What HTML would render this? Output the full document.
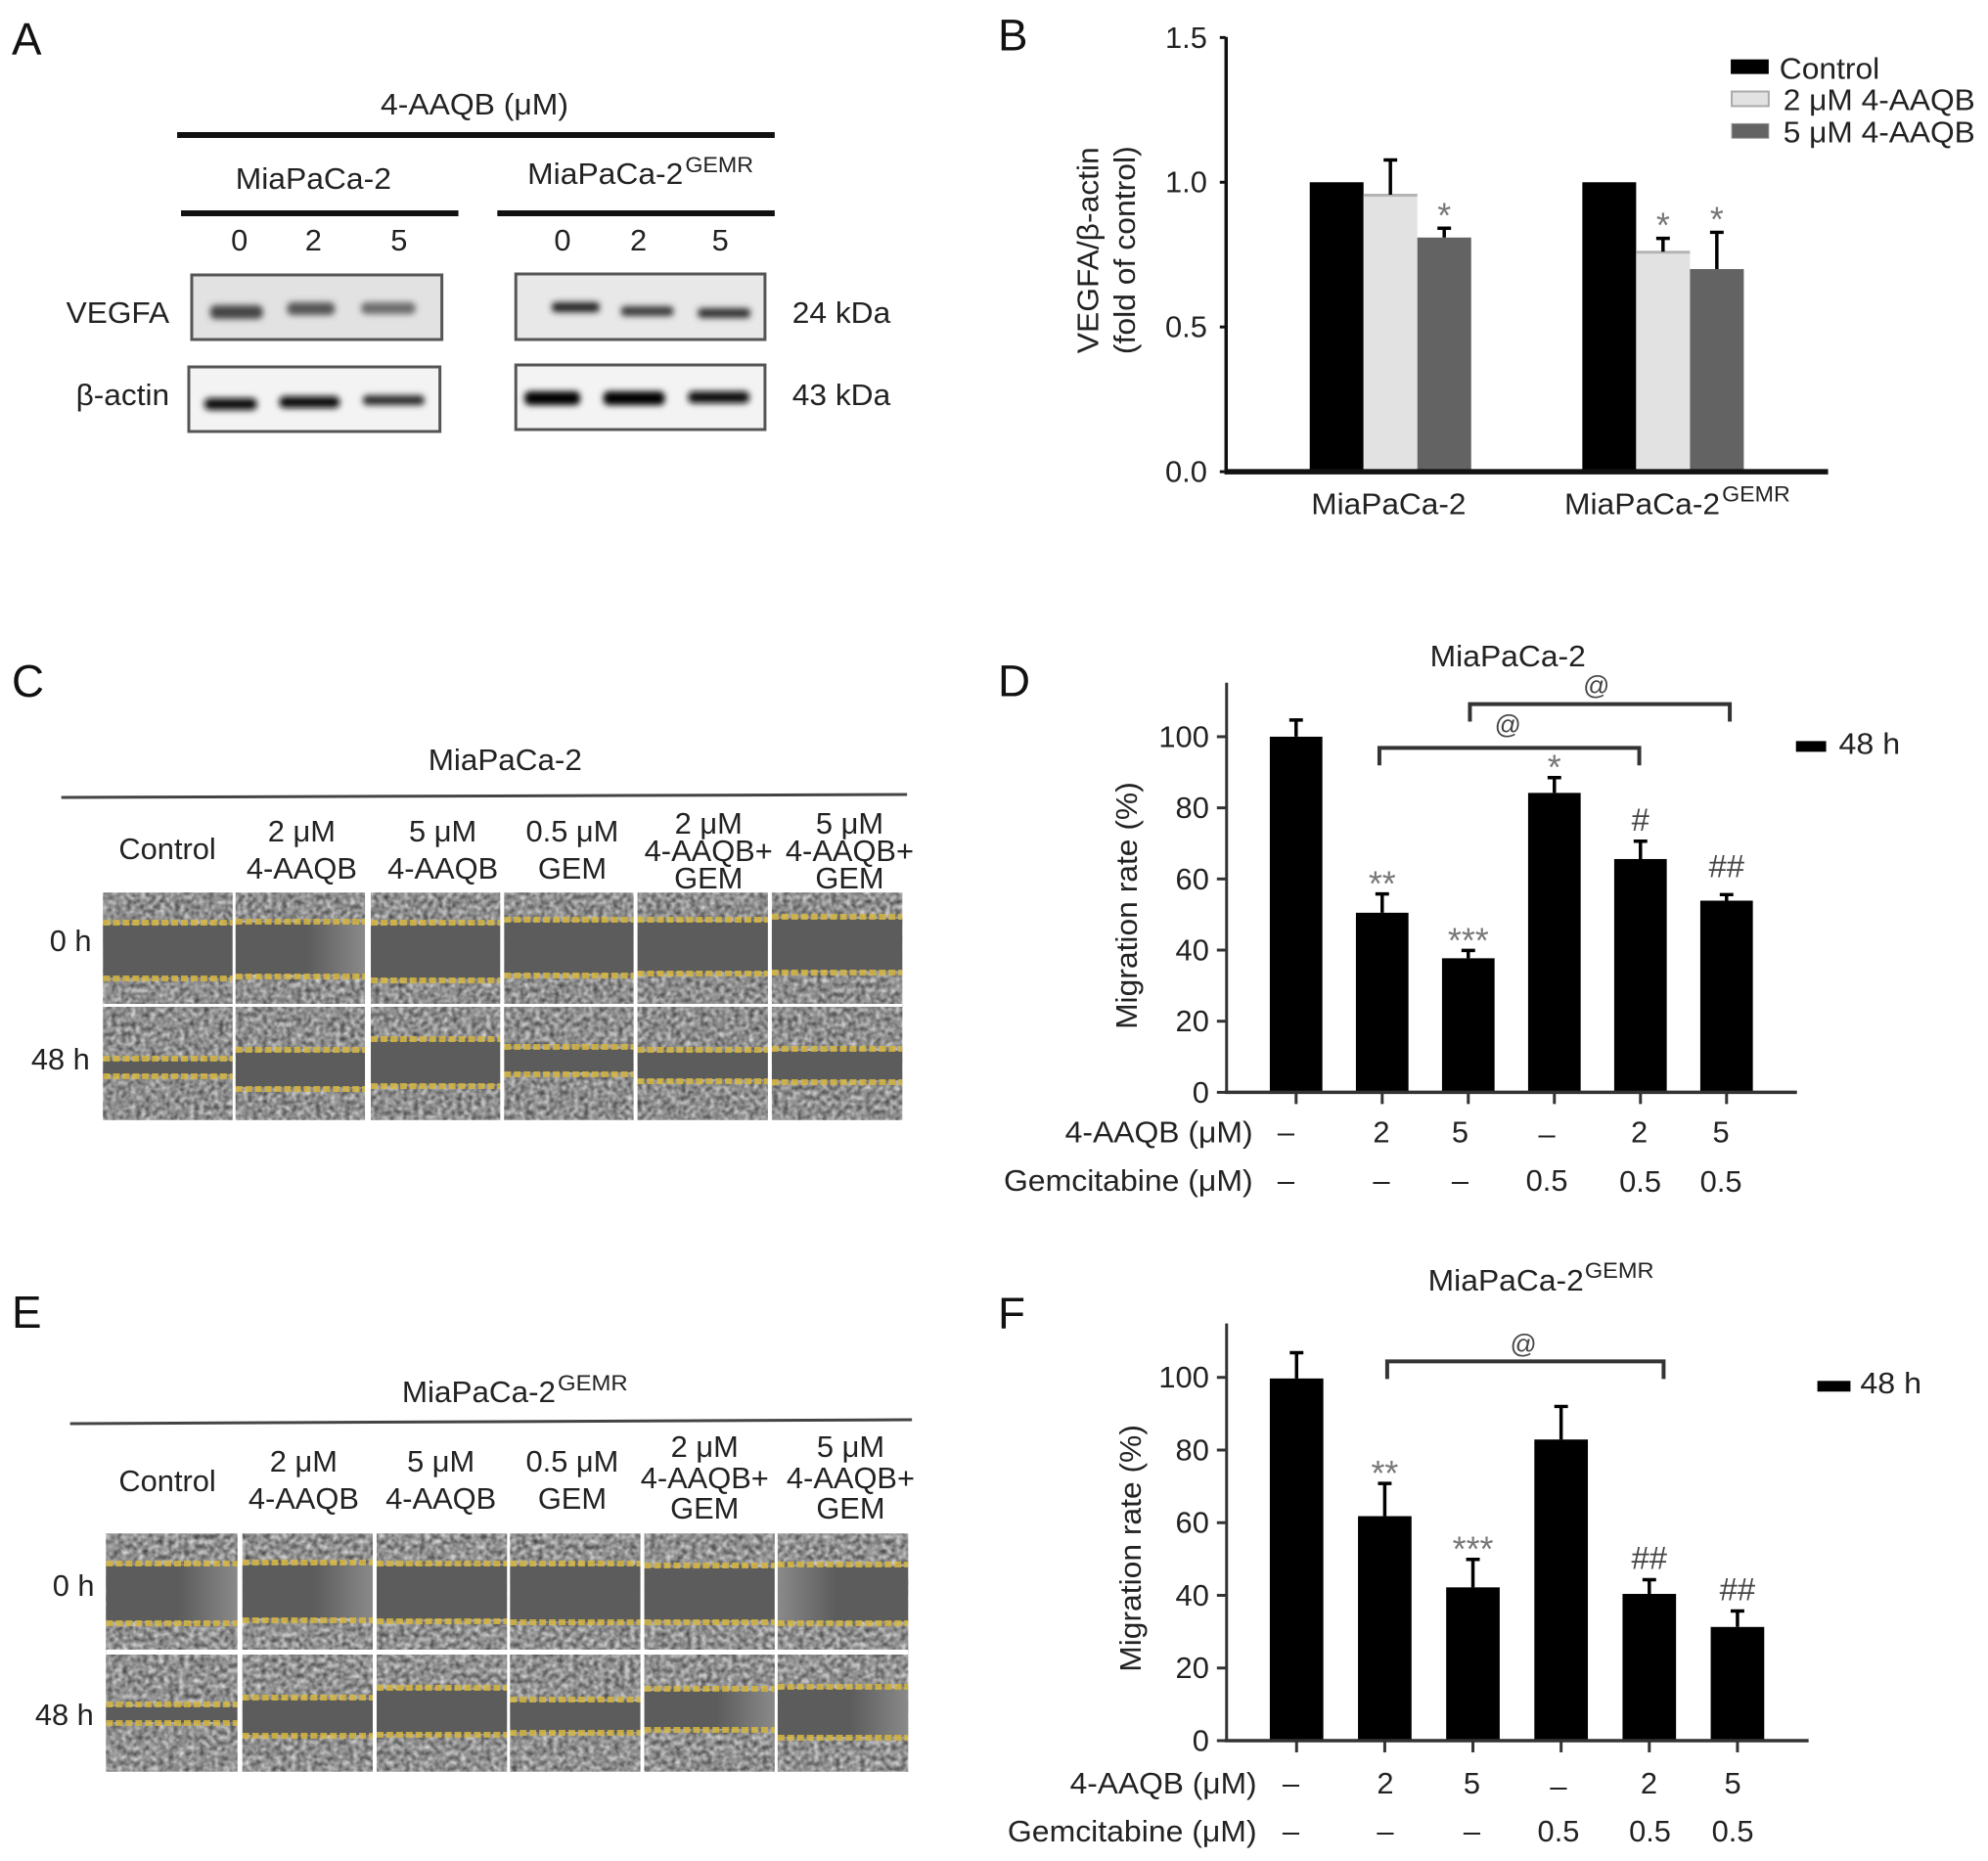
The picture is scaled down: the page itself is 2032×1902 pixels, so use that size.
<!DOCTYPE html>
<html lang="en">
<head>
<meta charset="utf-8">
<title>4-AAQB VEGFA and migration figure</title>
<style>
html,body{margin:0;padding:0;background:#fff}
svg{display:block}
text{font-family:"Liberation Sans",sans-serif;font-size:31px;fill:#222}
.letter{font-size:46px;fill:#111}
.sup{font-size:22px}
.mid{text-anchor:middle}
.dash{fill:none;stroke:#d6b640;stroke-width:6;stroke-dasharray:7 3;opacity:.85}
.dark{fill:#5c5c5c}
.blot{fill:#eeeeee;stroke:#555;stroke-width:3}
.gap{fill:#fff}
</style>
</head>
<body>
<svg id="figure" xmlns="http://www.w3.org/2000/svg" width="2032" height="1902" viewBox="0 0 2032 1902">
<defs>
<filter id="noise-c" filterUnits="userSpaceOnUse" x="106" y="912" width="821" height="233" color-interpolation-filters="sRGB">
<feTurbulence type="fractalNoise" baseFrequency="0.2" numOctaves="3" seed="4"/>
<feColorMatrix values="0.85 0 0 0 0.13 0.85 0 0 0 0.13 0.85 0 0 0 0.13 0 0 0 0 1"/>
<feGaussianBlur stdDeviation="0.8"/>
</filter>
<filter id="noise-e" filterUnits="userSpaceOnUse" x="109" y="1567" width="824" height="244" color-interpolation-filters="sRGB">
<feTurbulence type="fractalNoise" baseFrequency="0.19" numOctaves="3" seed="11"/>
<feColorMatrix values="0.85 0 0 0 0.14 0.85 0 0 0 0.14 0.85 0 0 0 0.14 0 0 0 0 1"/>
<feGaussianBlur stdDeviation="0.8"/>
</filter>
<filter id="blur-band" x="-30%" y="-100%" width="160%" height="300%"><feGaussianBlur stdDeviation="3.2"/></filter>
<linearGradient id="glow-right" x1="0" x2="1" y1="0" y2="0"><stop offset="0.55" stop-color="#fff" stop-opacity="0"/><stop offset="1" stop-color="#fff" stop-opacity=".28"/></linearGradient>
<linearGradient id="glow-left" x1="0" x2="1" y1="0" y2="0"><stop offset="0" stop-color="#fff" stop-opacity=".28"/><stop offset="0.45" stop-color="#fff" stop-opacity="0"/></linearGradient>
</defs>

<!-- Panel A -->
<g transform="matrix(0.9948 0 0 1 0 0)">
<text class="letter" x="12" y="56">A</text>
<text x="391" y="117" textLength="193" lengthAdjust="spacingAndGlyphs">4-AAQB (μM)</text>
<rect x="182" y="135" width="614" height="6" fill="#111"/>
<text x="242" y="193" textLength="160" lengthAdjust="spacingAndGlyphs">MiaPaCa-2</text>
<text x="542" y="188" textLength="160" lengthAdjust="spacingAndGlyphs">MiaPaCa-2</text>
<text class="sup" x="704" y="176" textLength="70" lengthAdjust="spacingAndGlyphs">GEMR</text>
<rect x="186" y="215" width="285" height="6" fill="#111"/>
<rect x="511" y="215" width="285" height="6" fill="#111"/>
<text class="mid" x="246" y="256">0</text>
<text class="mid" x="322" y="256">2</text>
<text class="mid" x="410" y="256">5</text>
<text class="mid" x="578" y="256">0</text>
<text class="mid" x="656" y="256">2</text>
<text class="mid" x="740" y="256">5</text>
<text x="68" y="330" textLength="106" lengthAdjust="spacingAndGlyphs">VEGFA</text>
<text x="78" y="414" textLength="96" lengthAdjust="spacingAndGlyphs">β-actin</text>
<text x="814" y="330" textLength="101" lengthAdjust="spacingAndGlyphs">24 kDa</text>
<text x="814" y="414" textLength="101" lengthAdjust="spacingAndGlyphs">43 kDa</text>

<g>
<rect class="blot" style="fill:#e2e2e2" x="197" y="281" width="257" height="66"/>
<g filter="url(#blur-band)" fill="#444"><rect x="216" y="312" width="54" height="14" rx="5"/><rect x="295" y="309" width="49" height="13" rx="5" fill="#555"/><rect x="371" y="309" width="56" height="12" rx="5" fill="#6c6c6c"/></g>
</g>
<g>
<rect class="blot" style="fill:#e8e8e8" x="530" y="280" width="256" height="67"/>
<g filter="url(#blur-band)" fill="#222"><rect x="567" y="309" width="49" height="10" rx="4"/><rect x="638" y="313" width="54" height="10" rx="4" fill="#3a3a3a"/><rect x="717" y="315" width="54" height="10" rx="4" fill="#333"/></g>
</g>
<g>
<rect class="blot" style="fill:#f3f3f3" x="194" y="375" width="258" height="66"/>
<g filter="url(#blur-band)" fill="#111"><rect x="210" y="407" width="54" height="12" rx="5"/><rect x="287" y="405" width="62" height="12" rx="5"/><rect x="373" y="404" width="63" height="10" rx="4" fill="#2c2c2c"/></g>
</g>
<g>
<rect class="blot" style="fill:#f3f3f3" x="530" y="373" width="256" height="66"/>
<g filter="url(#blur-band)" fill="#000"><rect x="539" y="400" width="57" height="14" rx="5"/><rect x="620" y="400" width="63" height="14" rx="5"/><rect x="707" y="400" width="63" height="12" rx="5" fill="#111"/></g>
</g>
</g>

<!-- Panel B static text -->
<g transform="matrix(0.9948 0 0 0.995 5.283 0)">
<text class="letter" x="1020" y="52">B</text>
<text x="1123" y="363" transform="rotate(-90 1123 363)" textLength="212" lengthAdjust="spacingAndGlyphs">VEGFA/β-actin</text>
<text x="1161" y="364" transform="rotate(-90 1161 364)" textLength="214" lengthAdjust="spacingAndGlyphs">(fold of control)</text>
<text x="1342" y="528" textLength="159" lengthAdjust="spacingAndGlyphs">MiaPaCa-2</text>
<text x="1602" y="528" textLength="160" lengthAdjust="spacingAndGlyphs">MiaPaCa-2</text>
<text class="sup" x="1764" y="515" textLength="70" lengthAdjust="spacingAndGlyphs">GEMR</text>
<rect x="1773" y="61" width="39" height="15" fill="#000"/>
<rect x="1774" y="94" width="38" height="15" fill="#e2e2e2" stroke="#aaa" stroke-width="2"/>
<rect x="1774" y="127" width="38" height="15" fill="#636363" stroke="#999" stroke-width="1"/>
<text x="1823" y="81" textLength="103" lengthAdjust="spacingAndGlyphs">Control</text>
<text x="1827" y="113" textLength="197" lengthAdjust="spacingAndGlyphs">2 μM 4-AAQB</text>
<text x="1827" y="146" textLength="197" lengthAdjust="spacingAndGlyphs">5 μM 4-AAQB</text>
</g>

<!-- Panel C -->
<g transform="matrix(0.9948 0 0 1 0 0)">
<text class="letter" x="12" y="712">C</text>
<text x="440" y="787" textLength="158" lengthAdjust="spacingAndGlyphs">MiaPaCa-2</text>
<path d="M63 815 L932 812" stroke="#444" stroke-width="3" fill="none"/>
<text class="mid" x="172" y="878">Control</text>
<g>
<text class="mid" x="310" y="860">2 μM</text>
<text class="mid" x="310" y="898">4-AAQB</text>
<text class="mid" x="455" y="860">5 μM</text>
<text class="mid" x="455" y="898">4-AAQB</text>
<text class="mid" x="588" y="860">0.5 μM</text>
<text class="mid" x="588" y="898">GEM</text>
<text class="mid" x="728" y="852">2 μM</text>
<text class="mid" x="728" y="880">4-AAQB+</text>
<text class="mid" x="728" y="908">GEM</text>
<text class="mid" x="873" y="852">5 μM</text>
<text class="mid" x="873" y="880">4-AAQB+</text>
<text class="mid" x="873" y="908">GEM</text>
</g>
<text x="51" y="972">0 h</text>
<text x="32" y="1093">48 h</text>
<rect x="106" y="912" width="821" height="233" fill="#888" filter="url(#noise-c)"/>
<g><rect class="dark" x="106" y="945" width="133" height="54"/><path class="dash" d="M106 943H239M106 1000H239"/></g>
<g><rect class="dark" x="242" y="943" width="133" height="53"/><rect fill="url(#glow-right)" x="242" y="943" width="133" height="53"/><path class="dash" d="M242 942H375M242 998H375"/></g>
<g><rect class="dark" x="381" y="945" width="133" height="55"/><path class="dash" d="M381 943H514M381 1002H514"/></g>
<g><rect class="dark" x="518" y="942" width="133" height="53"/><path class="dash" d="M518 940H651M518 997H651"/></g>
<g><rect class="dark" x="655" y="942" width="134" height="51"/><path class="dash" d="M655 940H789M655 995H789"/></g>
<g><rect class="dark" x="793" y="939" width="134" height="53"/><path class="dash" d="M793 937H927M793 994H927"/></g>
<g><rect class="dark" x="106" y="1084" width="133" height="14"/><path class="dash" d="M106 1082H239M106 1100H239"/></g>
<g><rect class="dark" x="242" y="1075" width="133" height="36"/><path class="dash" d="M242 1073H375M242 1113H375"/></g>
<g><rect class="dark" x="381" y="1064" width="133" height="44"/><path class="dash" d="M381 1062H514M381 1110H514"/></g>
<g><rect class="dark" x="518" y="1072" width="133" height="24"/><path class="dash" d="M518 1070H651M518 1098H651"/></g>
<g><rect class="dark" x="655" y="1075" width="134" height="28"/><path class="dash" d="M655 1073H789M655 1105H789"/></g>
<g><rect class="dark" x="793" y="1074" width="134" height="30"/><path class="dash" d="M793 1072H927M793 1106H927"/></g>
<g>
<rect class="gap" x="239" y="912" width="3" height="233"/><rect class="gap" x="375" y="912" width="6" height="233"/><rect class="gap" x="514" y="912" width="4" height="233"/><rect class="gap" x="651" y="912" width="4" height="233"/><rect class="gap" x="789" y="912" width="4" height="233"/><rect class="gap" x="106" y="1026" width="821" height="3"/>
</g>
</g>

<!-- Panel D static text -->
<g transform="matrix(0.9948 0 0 0.995 5.283 3.2)">
<text class="letter" x="1020" y="712">D</text>
<text x="1464" y="681" textLength="160" lengthAdjust="spacingAndGlyphs">MiaPaCa-2</text>
<text x="1163" y="1054" transform="rotate(-90 1163 1054)" textLength="254" lengthAdjust="spacingAndGlyphs">Migration rate (%)</text>
<path d="M1412 783V765H1679V783" fill="none" stroke="#333" stroke-width="4"/>
<path d="M1505 738V720H1772V738" fill="none" stroke="#333" stroke-width="4"/>
<text class="mid" style="font-size:27px;fill:#444" x="1635" y="710">@</text>
<text class="mid" style="font-size:27px;fill:#444" x="1544" y="750">@</text>
<rect x="1840" y="758" width="31" height="11" fill="#000"/>
<text x="1884" y="771" textLength="63" lengthAdjust="spacingAndGlyphs">48 h</text>
<text x="1089" y="1170" textLength="193" lengthAdjust="spacingAndGlyphs">4-AAQB (μM)</text>
<text x="1026" y="1220" textLength="256" lengthAdjust="spacingAndGlyphs">Gemcitabine (μM)</text>
<text class="mid" x="1316" y="1170">–</text>
<text class="mid" x="1414" y="1170">2</text>
<text class="mid" x="1495" y="1170">5</text>
<text class="mid" x="1584" y="1172">–</text>
<text class="mid" x="1679" y="1170">2</text>
<text class="mid" x="1763" y="1170">5</text>
<text class="mid" x="1316" y="1220">–</text>
<text class="mid" x="1414" y="1220">–</text>
<text class="mid" x="1495" y="1220">–</text>
<text class="mid" x="1584" y="1220">0.5</text>
<text class="mid" x="1680" y="1221">0.5</text>
<text class="mid" x="1763" y="1221">0.5</text>
</g>

<!-- Panel E -->
<g transform="matrix(0.9948 0 0 1 0 0)">
<text class="letter" x="12" y="1357">E</text>
<text x="413" y="1433" textLength="158" lengthAdjust="spacingAndGlyphs">MiaPaCa-2</text>
<text class="sup" x="573" y="1421" textLength="72" lengthAdjust="spacingAndGlyphs">GEMR</text>
<path d="M72 1455 L937 1451" stroke="#444" stroke-width="3" fill="none"/>
<text class="mid" x="172" y="1524">Control</text>
<g>
<text class="mid" x="312" y="1504">2 μM</text>
<text class="mid" x="312" y="1542">4-AAQB</text>
<text class="mid" x="453" y="1504">5 μM</text>
<text class="mid" x="453" y="1542">4-AAQB</text>
<text class="mid" x="588" y="1504">0.5 μM</text>
<text class="mid" x="588" y="1542">GEM</text>
<text class="mid" x="724" y="1489">2 μM</text>
<text class="mid" x="724" y="1521">4-AAQB+</text>
<text class="mid" x="724" y="1552">GEM</text>
<text class="mid" x="874" y="1489">5 μM</text>
<text class="mid" x="874" y="1521">4-AAQB+</text>
<text class="mid" x="874" y="1552">GEM</text>
</g>
<text x="54" y="1631">0 h</text>
<text x="36" y="1763">48 h</text>
<rect x="109" y="1567" width="824" height="244" fill="#888" filter="url(#noise-e)"/>
<g><rect class="dark" x="109" y="1600" width="135" height="57"/><rect fill="url(#glow-right)" x="109" y="1600" width="135" height="57"/><path class="dash" d="M109 1598H244M109 1659H244"/></g>
<g><rect class="dark" x="249" y="1599" width="134" height="55"/><rect fill="url(#glow-right)" x="249" y="1599" width="134" height="55"/><path class="dash" d="M249 1597H383M249 1656H383"/></g>
<g><rect class="dark" x="387" y="1600" width="134" height="55"/><path class="dash" d="M387 1598H521M387 1657H521"/></g>
<g><rect class="dark" x="524" y="1600" width="134" height="57"/><path class="dash" d="M524 1598H658M524 1658H658"/></g>
<g><rect class="dark" x="662" y="1602" width="134" height="54"/><path class="dash" d="M662 1600H796M662 1658H796"/></g>
<g><rect class="dark" x="799" y="1601" width="134" height="56"/><rect fill="url(#glow-left)" x="799" y="1601" width="134" height="56"/><path class="dash" d="M799 1599H933M799 1659H933"/></g>
<g><rect class="dark" x="109" y="1744" width="135" height="16"/><path class="dash" d="M109 1742H244M109 1761H244"/></g>
<g><rect class="dark" x="249" y="1737" width="134" height="36"/><path class="dash" d="M249 1735H383M249 1774H383"/></g>
<g><rect class="dark" x="387" y="1727" width="134" height="45"/><path class="dash" d="M387 1725H521M387 1773H521"/></g>
<g><rect class="dark" x="524" y="1739" width="134" height="31"/><path class="dash" d="M524 1737H658M524 1771H658"/></g>
<g><rect class="dark" x="662" y="1728" width="134" height="39"/><rect fill="url(#glow-right)" x="662" y="1728" width="134" height="39"/><path class="dash" d="M662 1726H796M662 1768H796"/></g>
<g><rect class="dark" x="799" y="1726" width="134" height="49"/><rect fill="url(#glow-right)" x="799" y="1726" width="134" height="49"/><path class="dash" d="M799 1724H933M799 1776H933"/></g>
<g>
<rect class="gap" x="244" y="1567" width="5" height="244"/><rect class="gap" x="383" y="1567" width="4" height="244"/><rect class="gap" x="521" y="1567" width="3" height="244"/><rect class="gap" x="658" y="1567" width="4" height="244"/><rect class="gap" x="796" y="1567" width="3" height="244"/><rect class="gap" x="109" y="1686" width="824" height="5"/>
</g>
</g>

<!-- Panel F static text -->
<g transform="matrix(0.9948 0 0 0.9948 5.283 6.66)">
<text class="letter" x="1020" y="1358">F</text>
<text x="1462" y="1319" textLength="160" lengthAdjust="spacingAndGlyphs">MiaPaCa-2</text>
<text class="sup" x="1623" y="1306" textLength="71" lengthAdjust="spacingAndGlyphs">GEMR</text>
<text x="1167" y="1711" transform="rotate(-90 1167 1711)" textLength="254" lengthAdjust="spacingAndGlyphs">Migration rate (%)</text>
<path d="M1420 1410V1392H1704V1410" fill="none" stroke="#333" stroke-width="4"/>
<text class="mid" style="font-size:27px;fill:#444" x="1560" y="1383">@</text>
<rect x="1862" y="1412" width="34" height="11" fill="#000"/>
<text x="1906" y="1425" textLength="63" lengthAdjust="spacingAndGlyphs">48 h</text>
<text x="1094" y="1836" textLength="192" lengthAdjust="spacingAndGlyphs">4-AAQB (μM)</text>
<text x="1030" y="1885" textLength="256" lengthAdjust="spacingAndGlyphs">Gemcitabine (μM)</text>
<text class="mid" x="1321" y="1836">–</text>
<text class="mid" x="1418" y="1836">2</text>
<text class="mid" x="1507" y="1836">5</text>
<text class="mid" x="1596" y="1839">–</text>
<text class="mid" x="1689" y="1836">2</text>
<text class="mid" x="1775" y="1836">5</text>
<text class="mid" x="1321" y="1885">–</text>
<text class="mid" x="1418" y="1885">–</text>
<text class="mid" x="1507" y="1885">–</text>
<text class="mid" x="1596" y="1885">0.5</text>
<text class="mid" x="1690" y="1885">0.5</text>
<text class="mid" x="1775" y="1885">0.5</text>
</g>

<g id="chart-b" transform="matrix(0.9948 0 0 0.995 5.283 0)"></g>
<g id="chart-d" transform="matrix(0.9948 0 0 0.995 5.283 3.2)"></g>
<g id="chart-f" transform="matrix(0.9948 0 0 0.9948 5.283 6.66)"></g>
</svg>

<script>
// Panel B values
const vegfaTicks = ['0.0', '0.5', '1.0', '1.5'];
const vegfaTickValues = [0, 0.5, 1, 1.5];
const vegfaControl = [1, 1];
const vegfa2uM = [0.957, 0.76];
const vegfa5uM = [0.809, 0.70];
const vegfaErrControl = [0, 0];
const vegfaErr2uM = [0.12, 0.046];
const vegfaErr5uM = [0.032, 0.127];
const vegfaMarks2uM = ['', '*'];
const vegfaMarks5uM = ['*', '*'];

// Panel D values
const migrationTicks = ['0', '20', '40', '60', '80', '100'];
const migrationTickValues = [0, 20, 40, 60, 80, 100];
const migrationParental = [100, 50.5, 37.7, 84.2, 65.6, 53.9];
const migrationParentalErr = [4.7, 5.3, 2.2, 4.3, 5, 1.7];
const migrationParentalMarks = ['', '**', '***', '*', '#', '##'];

// Panel F values
const migrationResistant = [99.7, 61.8, 42.2, 82.9, 40.4, 31.3];
const migrationResistantErr = [7.1, 9, 7.7, 9.1, 3.9, 4.4];
const migrationResistantMarks = ['', '**', '***', '', '##', '##'];

const NS = 'http://www.w3.org/2000/svg';

function addRect(parent, x, y, w, h, fill, name) {
  const el = document.createElementNS(NS, 'rect');
  el.setAttribute('x', x);
  el.setAttribute('y', y);
  el.setAttribute('width', w);
  el.setAttribute('height', h);
  el.setAttribute('fill', fill);
  
  
  parent.appendChild(el);
  return el;
}

function addText(parent, x, y, str, anchor, name, size, fill) {
  const el = document.createElementNS(NS, 'text');
  el.setAttribute('x', x);
  el.setAttribute('y', y);
  el.setAttribute('text-anchor', anchor);
  el.setAttribute('style', 'font-size:' + size + 'px;fill:' + fill);
  
  
  el.textContent = str;
  parent.appendChild(el);
  return el;
}

function addErrorBar(parent, cx, yTop, yBase, capW, name) {
  const el = document.createElementNS(NS, 'path');
  el.setAttribute('d', 'M' + cx + ' ' + yBase + 'V' + yTop + 'M' + (cx - capW / 2) + ' ' + yTop + 'H' + (cx + capW / 2));
  el.setAttribute('stroke', '#000');
  el.setAttribute('stroke-width', '3.5');
  el.setAttribute('fill', 'none');
  
  
  parent.appendChild(el);
}

function addMark(parent, cx, errTopY, mark, name, extraGap) {
  if (!mark) return;
  if (mark[0] === '*') {
    addText(parent, cx, errTopY + 2, mark, 'middle', name, 36, '#777');
  } else {
    addText(parent, cx, errTopY - 11 - extraGap, mark, 'middle', name, 33, '#444');
  }
}

function addLine(parent, x1, y1, x2, y2, width, color, name) {
  const el = document.createElementNS(NS, 'line');
  el.setAttribute('x1', x1);
  el.setAttribute('y1', y1);
  el.setAttribute('x2', x2);
  el.setAttribute('y2', y2);
  el.setAttribute('stroke', color);
  el.setAttribute('stroke-width', width);
  
  
  parent.appendChild(el);
}

// Panel B axes and marks
const yB = v => 484.5 - 297.3 * v;
const xB = (group, series) => 1340.4 + group * 280.1 + series * 55.3;
const chartB = document.getElementById('chart-b');
const seriesB = [
  { key: 'control', vals: vegfaControl, errs: vegfaErrControl, marks: ['', ''], fill: '#000' },
  { key: '2um', vals: vegfa2uM, errs: vegfaErr2uM, marks: vegfaMarks2uM, fill: '#e2e2e2' },
  { key: '5um', vals: vegfa5uM, errs: vegfaErr5uM, marks: vegfaMarks5uM, fill: '#636363' }
];
seriesB.forEach((s, si) => {
  s.vals.forEach((v, g) => {
    const x = xB(g, si);
    addRect(chartB, x, yB(v), 55.3, yB(0) - yB(v), s.fill, 'bar-' + s.key + '-group-' + g);
    if (s.fill === '#e2e2e2') addRect(chartB, x, yB(v) - 1, 55.3, 3, '#b4b4b4', 'bar-top-edge-' + g);
    if (s.errs[g] > 0) {
      addErrorBar(chartB, x + 27.6, yB(v + s.errs[g]), yB(v), 14, 'error-' + s.key + '-group-' + g);
    }
    addMark(chartB, x + 27.6, yB(v + s.errs[g]) - 3, s.marks[g], 'significance-' + s.key + '-group-' + g, 0);
  });
});
addLine(chartB, 1254.5, 38, 1254.5, 487, 3.5, '#111', 'y-axis-b');
addLine(chartB, 1253, 484.5, 1873, 484.5, 5.5, '#111', 'x-axis-b');
vegfaTickValues.forEach((v, i) => {
  addLine(chartB, 1248, yB(v), 1254, yB(v), 3, '#111', 'y-tick-b-' + i);
  addText(chartB, 1235, yB(v) + 10.5, vegfaTicks[i], 'end', 'y-tick-label-b-' + i, 31, '#222');
});

// Panels D and F share one drawing routine
function drawMigration(root, prefix, values, errs, marks, y, x, barW, yTop, xEnd) {
  values.forEach((v, i) => {
    addRect(root, x(i), y(v), barW, y(0) - y(v), '#000', 'bar-' + prefix + '-' + i);
    addErrorBar(root, x(i) + barW / 2, y(v + errs[i]), y(v), 14, 'error-' + prefix + '-' + i);
    addLine(root, x(i) + barW / 2, y(0), x(i) + barW / 2, y(0) + 12, 3, '#333', 'x-tick-' + prefix + '-' + i);
    addMark(root, x(i) + barW / 2, y(v + errs[i]), marks[i], 'significance-' + prefix + '-' + i, errs[i] < 2 ? 7 : 0);
  });
  addLine(root, 1255, yTop, 1255, y(0) + 1.5, 3, '#333', 'y-axis-' + prefix);
  addLine(root, 1253, y(0), xEnd, y(0), 3.5, '#333', 'x-axis-' + prefix);
  migrationTickValues.forEach((v, i) => {
    addLine(root, 1245, y(v), 1255, y(v), 3, '#333', 'y-tick-' + prefix + '-' + i);
    addText(root, 1237, y(v) + 10.5, migrationTicks[i], 'end', 'y-tick-label-' + prefix + '-' + i, 31, '#222');
  });
}

const yD = v => 1118.8 - 3.653 * v;
const xD = i => 1299.4 + i * 88.46;
drawMigration(document.getElementById('chart-d'), 'd', migrationParental, migrationParentalErr, migrationParentalMarks, yD, xD, 54, 698, 1841);

const yF = v => 1781.6 - 3.732 * v;
const xF = i => 1299.4 + i * 90.6;
drawMigration(document.getElementById('chart-f'), 'f', migrationResistant, migrationResistantErr, migrationResistantMarks, yF, xF, 55, 1353, 1853);
</script>
</body>
</html>
